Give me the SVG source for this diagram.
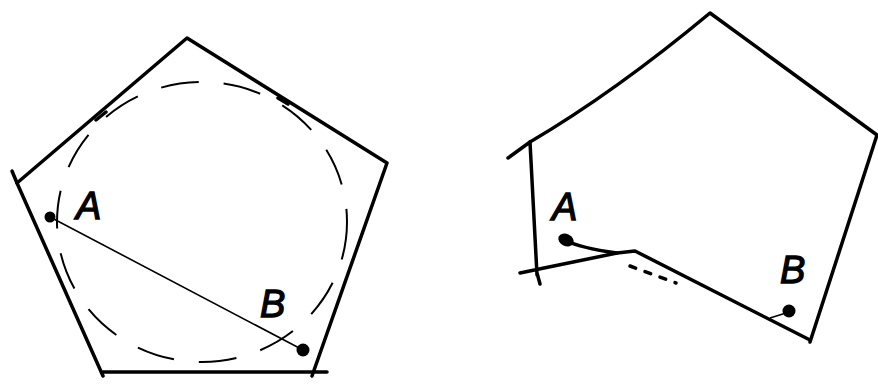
<svg xmlns="http://www.w3.org/2000/svg" width="878" height="385" viewBox="0 0 878 385">
<style>
.edge{fill:none;stroke:#000;stroke-width:3.5;stroke-linecap:round;stroke-linejoin:round}
.thin{fill:none;stroke:#000;stroke-width:1.6}
.dash{fill:none;stroke:#000;stroke-width:2;stroke-dasharray:38 25}
.lbl{font-family:"Liberation Sans",Arial,sans-serif;font-style:italic;font-size:38px;fill:#000;stroke:#000;stroke-width:1.3}
</style>
<rect width="878" height="385" fill="#fff"/>
<g id="left-figure">
  <ellipse class="dash" cx="202" cy="222" rx="145" ry="140"/>
  <path class="edge" d="M17,183 L187,38 L387,163 L312,376 M103,372 L327,372 M17,183 L103,376"/>
  <path class="edge" d="M17,183 L12,171"/>
  <path class="edge" stroke-width="5" d="M96,120 L106,112 M278,98 L288,104"/>
</g>
<g id="left-A">
  <circle cx="50" cy="217" r="5.5"/>
  <text class="lbl" x="76" y="219">A</text>
</g>
<g id="left-B">
  <circle cx="303" cy="350" r="6.5"/>
  <text class="lbl" x="260" y="317">B</text>
</g>
<g id="right-figure">
  <path class="edge" d="M530,142 Q615,92 710,13 L877,135 L810,342"/>
  <path class="edge" d="M530,142 L537,275 M530,142 L508,158 M520,273 L544,268 L617,253 L635,251 L810,340 M537,273 L540,284"/>
  <path class="edge" stroke-width="2.5" stroke-dasharray="6 10" d="M630,266 L676,283"/>
</g>
<g id="connectors">
  <line class="thin" x1="50" y1="217" x2="303" y2="350"/>
  <path class="edge" d="M565,240 Q580,248 617,253"/>
  <line class="thin" x1="770" y1="318" x2="786" y2="313"/>
</g>
<g id="right-A">
  <ellipse cx="566" cy="240" rx="8" ry="6" transform="rotate(25 566 240)"/>
  <text class="lbl" x="552" y="220">A</text>
</g>
<g id="right-B">
  <circle cx="789" cy="311" r="6.5"/>
  <text class="lbl" x="780" y="283">B</text>
</g>
</svg>
